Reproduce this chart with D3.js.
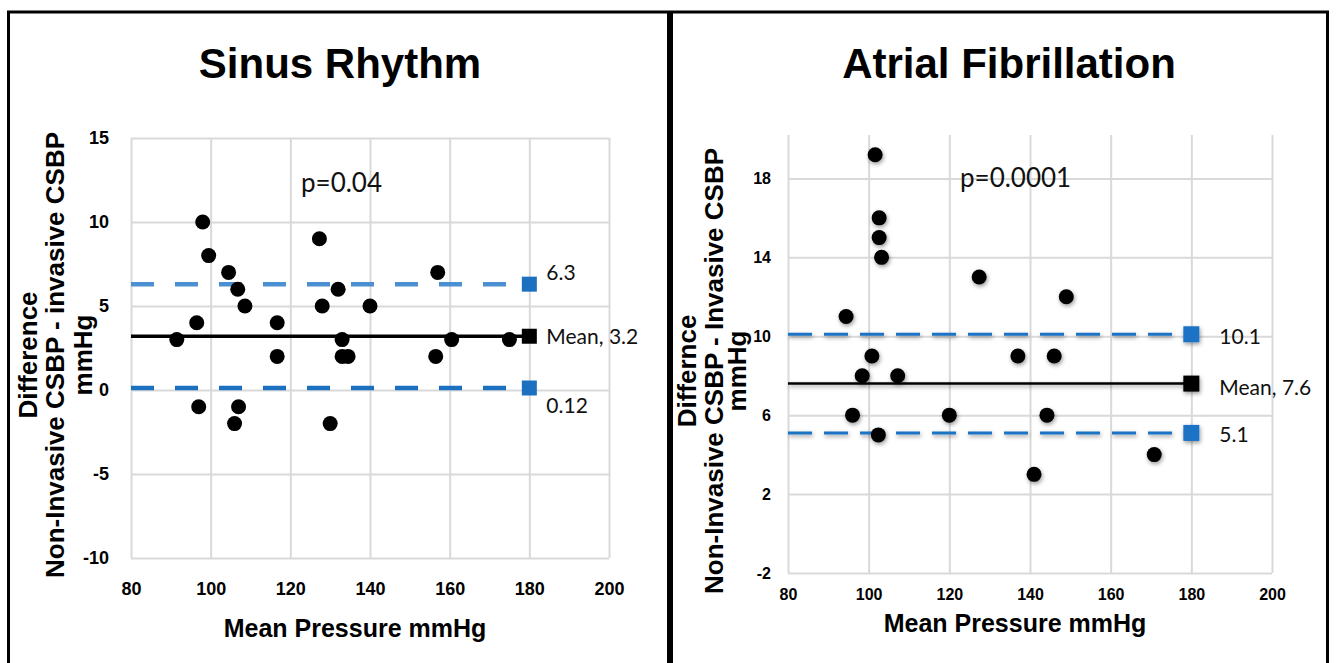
<!DOCTYPE html>
<html>
  <head>
    <title>Bland-Altman: Sinus Rhythm vs Atrial Fibrillation</title>
    <script src="https://d3js.org/d3.v7.min.js" charset="utf-8"></script>
    <style type="text/css">
      body { margin: 0; background: #fff; }
      .tick text { font-family: "Liberation Sans", Arial, sans-serif; font-weight: bold; fill: #000; }
      .note { font-family: Lato, "Open Sans", sans-serif; fill: #111; }
      .bold { font-family: "Liberation Sans", Arial, sans-serif; font-weight: bold; fill: #000; }
    </style>
  </head>
  <body>
    <script type="text/javascript">

    // ---- data ----
    var xTicks = [80, 100, 120, 140, 160, 180, 200];

    // Sinus rhythm: mean pressure vs difference
    var srMean = [98, 99.5, 104.5, 106.8, 108.6, 127.3, 128, 132, 140, 157, 91.5, 96.5, 116.7, 116.7,
                  133, 133, 134.5, 97, 107, 106, 130, 160.5, 156.5, 175];
    var srDiff = [10, 8, 7, 6, 5, 9, 5, 6, 5, 7, 3, 4, 4, 2,
                  3, 2, 2, -1, -1, -2, -2, 3, 2, 3];
    var srYTicks = [-10, -5, 0, 5, 10, 15];
    var srLimits = [6.3, 3.2, 0.12];          // upper LoA, mean, lower LoA
    var srLabels = ["6.3", "Mean, 3.2", "0.12"];

    // Atrial fibrillation
    var afMean = [101.6, 102.6, 102.6, 103.2, 127.4, 94.4, 100.8, 98.4, 107.2, 96, 102.4, 120,
                  137, 146, 144.2, 170.8, 141, 149];
    var afDiff = [19.2, 16, 15, 14, 13, 11, 9, 8, 8, 6, 5, 6,
                  9, 9, 6, 4, 3, 12];
    var afYTicks = [-2, 2, 6, 10, 14, 18];
    var afLimits = [10.1, 7.6, 5.1];
    var afLabels = ["10.1", "Mean, 7.6", "5.1"];

    var width = 1336, height = 663;
    var svg = d3.select("body").append("svg")
        .attr("width", width)
        .attr("height", height);

    // soft shadow used by the right-hand chart (user space so flat lines keep it)
    var defs = svg.append("defs");
    var f = defs.append("filter").attr("id", "shadow")
        .attr("filterUnits", "userSpaceOnUse")
        .attr("x", 0).attr("y", 0).attr("width", width).attr("height", height);
    f.append("feDropShadow").attr("dx", 1).attr("dy", 2).attr("stdDeviation", 2)
        .attr("flood-color", "#000").attr("flood-opacity", 0.4);

    // frame
    svg.append("rect").attr("x", 8.5).attr("y", 12).attr("width", 1319).attr("height", 670)
        .style("fill", "none").style("stroke", "#000").style("stroke-width", 3);
    svg.append("line").attr("x1", 670).attr("x2", 670).attr("y1", 11).attr("y2", 663)
        .style("stroke", "#000").style("stroke-width", 6);

    function plain(d) { return String(d); }  // keep a hyphen for negatives

    function drawPanel(c) {
      var x = d3.scaleLinear().domain([80, 200]).range(c.xRange);
      var y = d3.scaleLinear().domain(c.yDomain).range(c.yRange);
      var g = svg.append("g");
      var shadow = c.shadow ? "url(#shadow)" : null;

      // gridlines + tick labels through d3 axes
      var gx = g.append("g").attr("transform", "translate(0," + c.yRange[0] + ")")
          .call(d3.axisBottom(x).tickValues(xTicks).tickSize(-(c.yRange[0] - c.yRange[1]))
                .tickPadding(c.xPad).tickFormat(plain));
      var gy = g.append("g").attr("transform", "translate(" + c.xRange[0] + ",0)")
          .call(d3.axisLeft(y).tickValues(c.yTicks).tickSize(-(c.xRange[1] - c.xRange[0]))
                .tickPadding(c.yPad).tickFormat(plain));
      [gx, gy].forEach(function(a) {
        a.select(".domain").remove();
        a.selectAll(".tick line").style("stroke", "#d9d9d9").style("stroke-width", 2);
        a.selectAll(".tick text").style("font-size", c.tickSize + "px");
      });

      // limit lines (upper, mean, lower)
      var lineStyle = [
        {color: c.upperColor, width: c.dashWidth, dash: c.dash},
        {color: "#000", width: c.meanWidth, dash: null},
        {color: c.lowerColor, width: c.dashWidth, dash: c.dash}
      ];
      c.limits.forEach(function(v, i) {
        var s = lineStyle[i];
        g.append("line")
            .attr("x1", x(80)).attr("x2", x(180))
            .attr("y1", y(v)).attr("y2", y(v))
            .attr("filter", shadow)
            .style("stroke", s.color).style("stroke-width", s.width)
            .style("stroke-dasharray", s.dash);
        g.append("rect")
            .attr("x", x(180) - c.sq / 2).attr("y", y(v) - c.sq / 2)
            .attr("width", c.sq).attr("height", c.sq)
            .attr("filter", shadow)
            .style("fill", i === 1 ? "#000" : c.markColor);
        g.append("text").attr("class", "note")
            .attr("x", x(180) + c.labDx).attr("y", y(v) + c.labDy[i])
            .attr("dy", "0.35em")
            .style("font-size", c.labSize + "px")
            .text(c.labels[i]);
      });

      // points
      g.append("g").selectAll("circle")
          .data(c.mean.map(function(m, i) { return [m, c.diff[i]]; }))
          .enter().append("circle")
          .attr("cx", function(d) { return x(d[0]); })
          .attr("cy", function(d) { return y(d[1]); })
          .attr("r", c.r)
          .attr("filter", shadow)
          .style("fill", "#000");

      // texts
      g.append("text").attr("class", "bold")
          .attr("x", c.titleX).attr("y", 78)
          .attr("text-anchor", "middle")
          .style("font-size", "42px")
          .text(c.title);
      g.append("text").attr("class", "note")
          .attr("x", c.pX).attr("y", c.pY).attr("dy", "0.35em")
          .style("font-size", c.pSize + "px")
          .text(c.p);
      g.append("text").attr("class", "bold")
          .attr("x", (c.xRange[0] + c.xRange[1]) / 2 - 15).attr("y", c.xTitleY)
          .attr("text-anchor", "middle")
          .style("font-size", "25px")
          .text("Mean Pressure mmHg");
      c.yTitle.forEach(function(t, i) {
        g.append("text").attr("class", "bold")
            .attr("transform", "translate(" + c.yTitleX[i] + "," + c.yTitleY + ") rotate(-90)")
            .attr("text-anchor", "middle")
            .style("font-size", c.yTitleSize + "px")
            .text(t);
      });
    }

    drawPanel({
      xRange: [131, 609], yDomain: [-10, 15], yRange: [558, 138],
      yTicks: srYTicks, xPad: 24, yPad: 22, tickSize: 18,
      mean: srMean, diff: srDiff, r: 7.5, shadow: false,
      limits: srLimits, labels: srLabels,
      upperColor: "#4a90d2", lowerColor: "#1b70c0", markColor: "#1b70c0",
      dashWidth: 4.5, meanWidth: 3.5, dash: "23,21", sq: 15,
      labDx: 17, labDy: [-12, 0, 18], labSize: 21,
      title: "Sinus Rhythm", titleX: 340,
      p: "p=0.04", pX: 301, pY: 183, pSize: 26,
      xTitleY: 637,
      yTitle: ["Difference", "Non-Invasive CSBP - invasive CSBP", "mmHg"],
      yTitleX: [37, 64, 92], yTitleY: 355, yTitleSize: 26
    });

    drawPanel({
      xRange: [788, 1272], yDomain: [-2, 20.2], yRange: [573, 135],
      yTicks: afYTicks, xPad: 16, yPad: 17, tickSize: 16,
      mean: afMean, diff: afDiff, r: 7.5, shadow: true,
      limits: afLimits, labels: afLabels,
      upperColor: "#1b72c4", lowerColor: "#1b72c4", markColor: "#1b72c4",
      dashWidth: 3, meanWidth: 2.5, dash: "24,12", sq: 16,
      labDx: 28, labDy: [2, 4, 2], labSize: 21,
      title: "Atrial Fibrillation", titleX: 1009,
      p: "p=0.0001", pX: 960, pY: 178, pSize: 26,
      xTitleY: 632,
      yTitle: ["Differnce", "Non-Invasive CSBP - Invasive CSBP", "mmHg"],
      yTitleX: [696, 723, 746], yTitleY: 371, yTitleSize: 26
    });

    </script>
  </body>
</html>
